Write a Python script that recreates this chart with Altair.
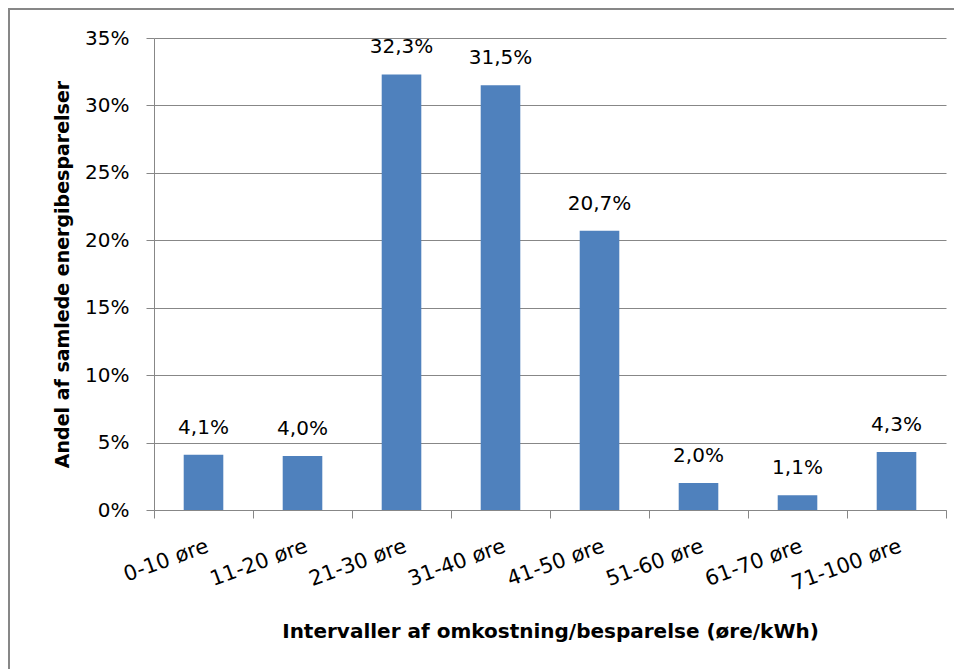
import altair as alt
import pandas as pd

categories = ["0-10 øre", "11-20 øre", "21-30 øre", "31-40 øre",
              "41-50 øre", "51-60 øre", "61-70 øre", "71-100 øre"]
values = [0.041, 0.040, 0.323, 0.315, 0.207, 0.020, 0.011, 0.043]
labels = ["4,1%", "4,0%", "32,3%", "31,5%", "20,7%", "2,0%", "1,1%", "4,3%"]
y_ticks = [0, 0.05, 0.10, 0.15, 0.20, 0.25, 0.30, 0.35]
y_tick_labels = ["0%", "5%", "10%", "15%", "20%", "25%", "30%", "35%"]

df = pd.DataFrame({"cat": categories, "val": values, "lab": labels})

FONT = "DejaVu Sans"
GRAY = "#878787"
BLUE = "#4F81BD"

label_expr = "{" + ", ".join(f"'{t}': '{l}'" for t, l in zip(
    [f"{v:.2f}" for v in y_ticks], y_tick_labels)) + "}[format(datum.value, '.2f')]"

x_enc = alt.X("cat:N", sort=categories,
              scale=alt.Scale(paddingInner=0, paddingOuter=0),
              axis=alt.Axis(title="Intervaller af omkostning/besparelse (øre/kWh)",
                            labelAngle=-20, labelFont=FONT, labelFontSize=21,
                            labelColor="black", labelPadding=17,
                            tickBand="extent", tickSize=8, tickColor=GRAY,
                            domainColor=GRAY, titleFont=FONT, titleFontSize=20,
                            titleFontWeight="bold", titleColor="black",
                            titleY=127, titleBaseline="alphabetic"))

y_enc = alt.Y("val:Q",
              scale=alt.Scale(domain=[0, 0.35], nice=False),
              axis=alt.Axis(title="Andel af samlede energibesparelser",
                            values=y_ticks, labelExpr=label_expr,
                            labelFont=FONT, labelFontSize=20, labelColor="black",
                            labelPadding=17, tickSize=8, tickColor=GRAY,
                            domainColor=GRAY, gridColor=GRAY, grid=True,
                            titleFont=FONT, titleFontSize=19, titleFontWeight="bold",
                            titleColor="black", titleX=-86,
                            titleBaseline="alphabetic"))

bars = alt.Chart(df).mark_bar(color=BLUE, width=alt.RelativeBandSize(0.4)).encode(
    x=x_enc, y=y_enc)

text = alt.Chart(df).mark_text(font=FONT, fontSize=20, color="black",
                               baseline="alphabetic", dy=-21).encode(
    x=alt.X("cat:N", sort=categories), y="val:Q", text="lab:N")

frame_top = alt.Chart(df).mark_rule(color=GRAY, strokeWidth=2).encode(
    x=alt.value(-146), x2=alt.value(1000), y=alt.value(-29))
frame_left = alt.Chart(df).mark_rule(color=GRAY, strokeWidth=2).encode(
    x=alt.value(-145), y=alt.value(-30), y2=alt.value(700))

chart = alt.layer(bars, text, frame_top, frame_left).properties(
    width=792, height=472,
    autosize=alt.AutoSizeParams(type="none"),
    padding={"left": 146, "top": 30, "right": 8, "bottom": 160},
    background="white",
).configure_view(stroke=None).configure_axis(gridWidth=1, domainWidth=1, tickWidth=1)

chart.save("out.html", embed_options={"renderer": "svg", "actions": False})
